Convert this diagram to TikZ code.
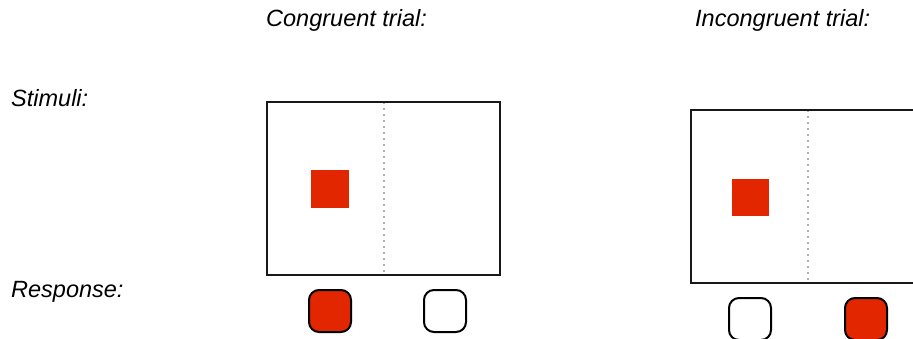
\documentclass[tikz,border=0pt]{standalone}
\usepackage{fontspec}
\setmainfont{Liberation Sans}
\definecolor{stimred}{RGB}{226,38,0}
\definecolor{midline}{RGB}{175,175,175}
\begin{document}
\begin{tikzpicture}[x=1pt,y=-1pt,
  label/.style={font=\fontsize{23.5}{26}\selectfont\itshape, inner sep=0pt, anchor=base west},
  screen/.style={draw=black!90, line width=2pt},
  divider/.style={draw=midline, line width=1.6pt, dash pattern=on 1.6pt off 4.4pt},
  target/.style={fill=stimred},
  keyoff/.style={draw=black, line width=2pt, rounded corners=10pt, fill=white},
  keyon/.style={keyoff, fill=stimred}]
\clip (0,0) rectangle (913,338);
\fill[white] (0,0) rectangle (913,338);

% headings and row labels
\node[label] (hcon) at (266,26) {Congruent trial:};
\node[label] (hinc) at (695,26) {Incongruent trial:};
\node[label] (lstim) at (11,106) {Stimuli:};
\node[label] (lresp) at (11,297) {Response:};

% congruent trial: stimulus left, left key pressed
\draw[divider] (384,102) -- (384,275);
\draw[screen] (267,102) rectangle (500,275);
\fill[target] (311,170) rectangle (349,208);
\draw[keyon]  (309,290) rectangle (351,332);
\draw[keyoff] (424,290) rectangle (466,332);

% incongruent trial: stimulus left, right key pressed
\draw[divider] (808,110) -- (808,283);
\draw[screen] (691,110) rectangle (924,283);
\fill[target] (732,179) rectangle (769,216);
\draw[keyoff] (729,298) rectangle (771,340);
\draw[keyon]  (845,298) rectangle (887,340);
\end{tikzpicture}
\end{document}
